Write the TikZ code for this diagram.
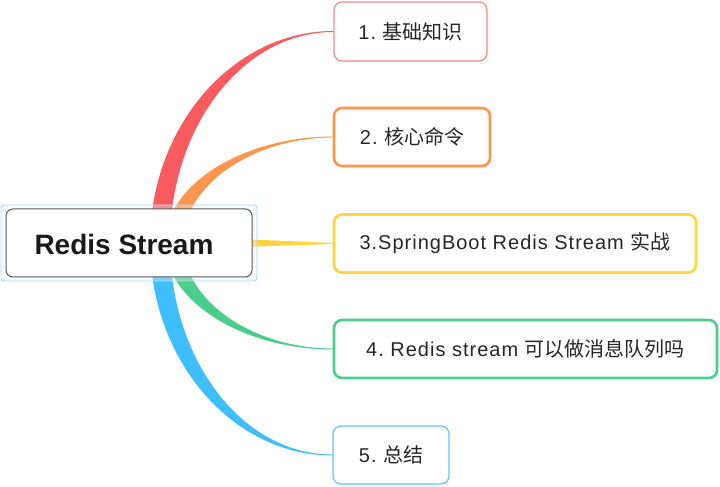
\documentclass[tikz,border=0pt]{standalone}
\usepackage{fontspec}
\setmainfont{Liberation Sans}
\newfontfamily\latf[LetterSpace=5]{Liberation Sans}
\newfontfamily\cjk{Noto Sans CJK SC}
\usetikzlibrary{calc}
\definecolor{redc}{HTML}{F95B5F}
\definecolor{orangec}{HTML}{FF9650}
\definecolor{yellowc}{HTML}{FFD53E}
\definecolor{greenc}{HTML}{4BCD8B}
\definecolor{bluec}{HTML}{3FBEFE}
\definecolor{redb}{HTML}{F0888B}
\definecolor{blueb}{HTML}{5DC6FB}
\definecolor{selb}{HTML}{A9DDF6}
\definecolor{txt}{HTML}{262626}
\tikzset{
  child/.style={draw, fill=white, rounded corners=8pt, align=center, inner sep=0pt,
    text=txt, font=\fontsize{20}{24}\selectfont\frenchspacing},
  thinb/.style={line width=1.2pt},
  thickb/.style={line width=2.6pt},
}
\begin{document}
\begin{tikzpicture}[x=1pt,y=1pt]
\useasboundingbox (0,0) rectangle (720,487);
% child nodes
\node[child, thinb, draw=redb, minimum width=153pt, minimum height=59pt] (n1) at (410.5,455.5) {{\latf 1. }{\cjk 基础知识}};
\node[child, thickb, draw=orangec, minimum width=156pt, minimum height=58pt] (n2) at (412,350) {{\latf 2. }{\cjk 核心命令}};
\node[child, thickb, draw=yellowc, minimum width=362pt, minimum height=58pt] (n3) at (515,243.5) {{\latf 3.SpringBoot Redis Stream }{\cjk 实战}};
\node[child, thickb, draw=greenc, minimum width=383pt, minimum height=58pt] (n4) at (525.5,138) {{\latf 4. Redis stream }{\cjk 可以做消息队列吗}};
\node[child, thinb, draw=blueb, minimum width=116pt, minimum height=58pt] (n5) at (391,32) {{\latf 5. }{\cjk 总结}};
% central node geometry (drawn after connectors)
\coordinate (cc) at (129,244);
\coordinate (rootR) at ($(cc)+(31,0)$);
\coordinate (rootO) at ($(cc)+(45,0)$);
% connectors (tapered)
\fill[redc] ([xshift=-10pt]rootR) .. controls (150,360.7) and (233,456) .. ([yshift=0.5pt]n1.west)
  -- ([yshift=-0.5pt]n1.west) .. controls (243,455) and (170,360.5) .. ([xshift=10pt]rootR) -- cycle;
\fill[bluec] ([xshift=-10pt]rootR) .. controls (150,127) and (232,31.5) .. ([yshift=-0.5pt]n5.west)
  -- ([yshift=0.5pt]n5.west) .. controls (242,32.5) and (170,127.5) .. ([xshift=10pt]rootR) -- cycle;
\fill[orangec] ([xshift=-9pt]rootO) .. controls (165,302.8) and (244,350.5) .. ([yshift=0.5pt]n2.west)
  -- ([yshift=-0.5pt]n2.west) .. controls (254,349.5) and (183,302.2) .. ([xshift=9pt]rootO) -- cycle;
\fill[greenc] ([xshift=-9pt]rootO) .. controls (165,185.2) and (244,137.5) .. ([yshift=-0.5pt]n4.west)
  -- ([yshift=0.5pt]n4.west) .. controls (254,138.5) and (183,185.8) .. ([xshift=9pt]rootO) -- cycle;
\fill[yellowc] (240,248) -- ([yshift=0.5pt]n3.west) -- ([yshift=-0.5pt]n3.west) -- (240,240) -- cycle;
% central node
\node[draw=selb, line width=0.9pt, fill=selb!25, fill opacity=0.35, draw opacity=1, rounded corners=3pt,
  minimum width=256pt, minimum height=76pt, inner sep=0pt] (sel) at (cc) {};
\node[draw=black!65, line width=1pt, fill=white, rounded corners=7pt,
  minimum width=246pt, minimum height=68pt, inner sep=0pt] (c) at (cc) {};
\node[text=black!90, font=\fontsize{28}{32}\selectfont\bfseries, inner sep=0pt] (ct) at (124,243) {Redis Stream};
\end{tikzpicture}
\end{document}
